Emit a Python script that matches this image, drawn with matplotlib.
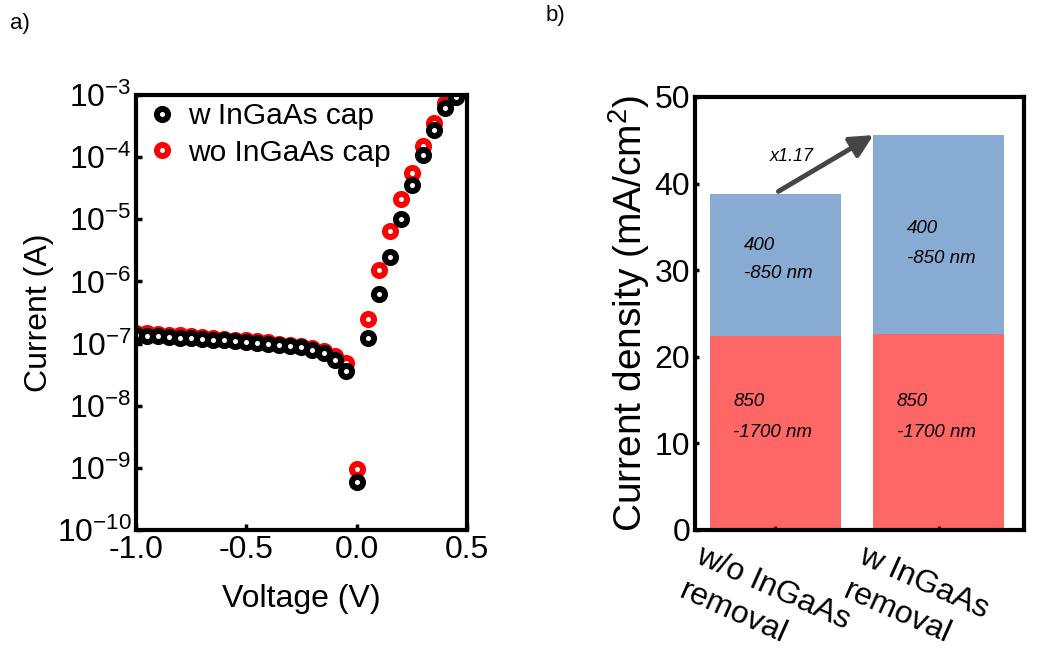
import matplotlib
matplotlib.use("Agg")
import matplotlib.pyplot as plt
import matplotlib.transforms as mtransforms
import numpy as np

plt.rcParams['font.family'] = ['Liberation Sans', 'DejaVu Sans']
plt.rcParams['mathtext.fontset'] = 'custom'
plt.rcParams['mathtext.rm'] = 'Liberation Sans'
plt.rcParams['mathtext.it'] = 'Liberation Sans:italic'
plt.rcParams['axes.unicode_minus'] = False

# ---- data, panel a (I-V, log scale) ----
voltage = [-1.0, -0.95, -0.9, -0.85, -0.8, -0.75, -0.7, -0.65, -0.6, -0.55,
           -0.5, -0.45, -0.4, -0.35, -0.3, -0.25, -0.2, -0.15, -0.1, -0.05,
           0.0, 0.05, 0.1, 0.15, 0.2, 0.25, 0.3, 0.35, 0.4, 0.45]
i_with_cap = [1.35e-7, 1.32e-7, 1.30e-7, 1.27e-7, 1.24e-7, 1.21e-7, 1.18e-7, 1.15e-7, 1.12e-7, 1.09e-7,
              1.06e-7, 1.03e-7, 1.0e-7, 9.6e-8, 9.2e-8, 8.7e-8, 8.0e-8, 7.0e-8, 5.5e-8, 3.6e-8,
              5.9e-10, 1.23e-7, 6.2e-7, 2.5e-6, 1.0e-5, 3.6e-5, 1.1e-4, 2.7e-4, 6.1e-4, 9.3e-4]
i_without_cap = [1.5e-7, 1.46e-7, 1.42e-7, 1.38e-7, 1.35e-7, 1.31e-7, 1.28e-7, 1.24e-7, 1.2e-7, 1.16e-7,
                 1.12e-7, 1.08e-7, 1.04e-7, 1.0e-7, 9.6e-8, 9.1e-8, 8.5e-8, 7.6e-8, 6.3e-8, 4.8e-8,
                 9.5e-10, 2.5e-7, 1.5e-6, 6.5e-6, 2.1e-5, 5.6e-5, 1.5e-4, 3.5e-4, 7.5e-4, 1.0e-3]

# ---- data, panel b (stacked current density) ----
samples = ["w/o InGaAs\nremoval", "w InGaAs\nremoval"]
j_850_1700 = [22.4, 22.6]
j_400_850 = [16.4, 23.0]
ratio_text = "x1.17"

fig = plt.figure(figsize=(10.5, 6.53), dpi=100)

# ================= panel a =================
ax1 = fig.add_axes([0.1295, 0.1884, 0.3152, 0.6662])
ring = dict(marker='o', linestyle='none', markersize=8, markeredgewidth=4.3,
            markerfacecolor='white')
l_red, = ax1.plot(voltage, i_without_cap, markeredgecolor='red', **ring, label='wo InGaAs cap')
l_blk, = ax1.plot(voltage, i_with_cap, markeredgecolor='black', **ring, label='w InGaAs cap')
ax1.set_yscale('log')
ax1.set_xlim(-1.0, 0.5)
ax1.set_ylim(1e-10, 1e-3)
ax1.set_xticks([-1.0, -0.5, 0.0, 0.5])
ax1.set_xticklabels(['-1.0', '-0.5', '0.0', '0.5'])
yt = [1e-10, 1e-9, 1e-8, 1e-7, 1e-6, 1e-5, 1e-4, 1e-3]
ax1.set_yticks(yt)
ax1.set_yticklabels(['10$^{%d}$' % int(np.log10(v)) for v in yt])
ax1.minorticks_off()
ax1.tick_params(direction='in', length=4, width=2.5, labelsize=23)
ax1.tick_params(axis='y', labelsize=23, pad=3)
for s in ax1.spines.values():
    s.set_linewidth(3)
ax1.set_xlabel('Voltage (V)', fontsize=23, labelpad=14)
ax1.set_ylabel('Current (A)', fontsize=23, labelpad=2)
ax1.legend(handles=[l_blk, l_red], loc='upper left', bbox_to_anchor=(-0.02, 1.025),
           frameon=False, fontsize=21.5, handletextpad=0.35, labelspacing=0.3,
           handlelength=1.0, borderaxespad=0.2)

# ================= panel b =================
ax2 = fig.add_axes([0.6619, 0.1884, 0.3133, 0.6631])
x = np.arange(len(samples))
ax2.bar(x, j_850_1700, width=0.8, color='red', alpha=0.6, zorder=3, linewidth=0)
ax2.bar(x, j_400_850, width=0.8, bottom=j_850_1700, color='#3974B7', alpha=0.6,
        zorder=3, linewidth=0)
ax2.set_xlim(-0.49, 1.52)
ax2.set_ylim(0, 50)
ax2.set_yticks([0, 10, 20, 30, 40, 50])
ax2.set_xticks(x)
ax2.set_xticklabels(['', ''])
ax2.tick_params(direction='in', length=3, width=2.5, labelsize=23)
ax2.tick_params(axis='x', length=3)
for s in ax2.spines.values():
    s.set_linewidth(3)
    s.set_zorder(4)
ax2.set_ylabel('Current density (mA/cm$^{2}$)', fontsize=28, labelpad=2)

# category labels, rotated
trans = mtransforms.blended_transform_factory(ax2.transData, ax2.transAxes)
for xi, lab in zip(x, samples):
    ax2.text(xi - 0.44, -0.025, lab, transform=trans, rotation=-24,
             rotation_mode='anchor', ha='left', va='top', fontsize=23,
             linespacing=1.35, clip_on=False)

# wavelength band annotations
ax2.text(-0.19, 32.9, '400', fontsize=13.5, style='italic', va='center', zorder=5)
ax2.text(-0.19, 29.6, '-850 nm', fontsize=13.5, style='italic', va='center', zorder=5)
ax2.text(0.805, 34.8, '400', fontsize=13.5, style='italic', va='center', zorder=5)
ax2.text(0.805, 31.4, '-850 nm', fontsize=13.5, style='italic', va='center', zorder=5)
for xo in [-0.256, 0.744]:
    ax2.text(xo, 14.8, '850', fontsize=13.5, style='italic', va='center', zorder=5)
    ax2.text(xo, 11.3, '-1700 nm', fontsize=13.5, style='italic', va='center', zorder=5)

ax2.annotate('', xy=(0.6, j_850_1700[1] + j_400_850[1]),
             xytext=(0.02, j_850_1700[0] + j_400_850[0] + 0.3),
             arrowprops=dict(arrowstyle='-|>', color='#454545', lw=3.5,
                             mutation_scale=34, shrinkA=0, shrinkB=0), zorder=6)
ax2.text(0.1, 43.1, ratio_text, fontsize=13, style='italic', ha='center', va='center', zorder=6)

# panel letters
fig.text(20 / 1050, 1 - 24 / 653, 'a)', fontsize=16, ha='center', va='center')
fig.text(555 / 1050, 1 - 16 / 653, 'b)', fontsize=16, ha='center', va='center')

fig.savefig('out.png', dpi=100)
